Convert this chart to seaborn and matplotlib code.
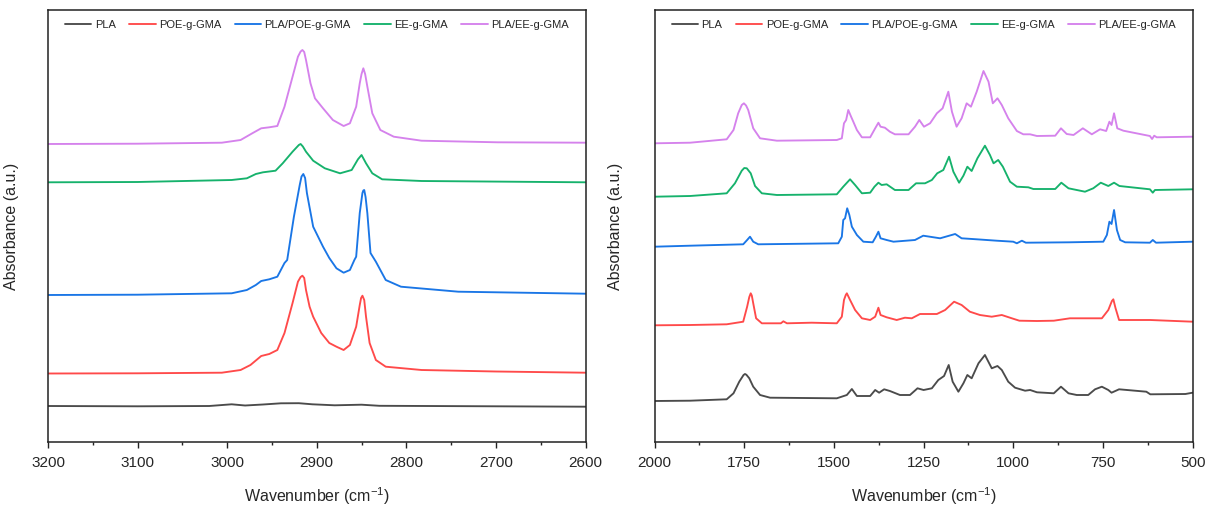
import matplotlib
matplotlib.use("Agg")
import matplotlib.pyplot as plt
from matplotlib.ticker import MultipleLocator
import pandas as pd
import seaborn as sns

# ---------------- C-H stretching region (3200-2600 cm-1) ----------------
ch_pla_wn = [3200, 3100, 3020, 2995, 2980, 2960, 2940, 2920, 2905, 2880, 2850, 2830, 2700, 2600]
ch_pla_abs = [0.360, 0.357, 0.360, 0.377, 0.365, 0.375, 0.387, 0.388, 0.377, 0.367, 0.373, 0.362, 0.357, 0.353]

ch_poe_wn = [3200, 3100, 3006, 2985, 2974, 2962, 2953, 2944, 2936, 2927, 2921, 2918, 2916, 2914, 2912,
             2908, 2904, 2895, 2886, 2878, 2870, 2863, 2856, 2852, 2850.5, 2849, 2847, 2845, 2841, 2834,
             2823, 2783, 2700, 2600]
ch_poe_abs = [0.685, 0.687, 0.693, 0.720, 0.770, 0.860, 0.880, 0.920, 1.090, 1.390, 1.603, 1.650, 1.663,
              1.640, 1.520, 1.353, 1.253, 1.090, 0.990, 0.953, 0.920, 0.970, 1.153, 1.370, 1.440, 1.463,
              1.420, 1.253, 0.990, 0.820, 0.753, 0.720, 0.705, 0.693]

ch_plapoe_wn = [3200, 3100, 2995, 2978, 2968, 2962, 2953, 2944, 2936, 2933, 2925.5, 2919, 2917, 2915,
                2913, 2911, 2904, 2893, 2886, 2878, 2870, 2863, 2858, 2856, 2852, 2849, 2848, 2847,
                2845.5, 2843.5, 2840, 2834, 2823, 2806, 2742, 2600]
ch_plapoe_abs = [1.470, 1.473, 1.487, 1.520, 1.570, 1.610, 1.627, 1.653, 1.790, 1.820, 2.253, 2.570,
                 2.655, 2.680, 2.640, 2.490, 2.153, 1.953, 1.840, 1.737, 1.693, 1.720, 1.820, 1.853,
                 2.290, 2.490, 2.515, 2.520, 2.450, 2.287, 1.890, 1.803, 1.620, 1.553, 1.503, 1.483]

ch_ee_wn = [3200, 3100, 2995, 2978, 2968, 2960, 2946, 2938, 2927, 2920, 2918, 2915.5, 2912, 2904, 2891,
            2874, 2861, 2854, 2850, 2845, 2838, 2827, 2783, 2600]
ch_ee_abs = [2.597, 2.600, 2.620, 2.637, 2.680, 2.697, 2.713, 2.787, 2.903, 2.970, 2.980, 2.955, 2.903,
             2.813, 2.737, 2.687, 2.720, 2.827, 2.870, 2.787, 2.687, 2.627, 2.610, 2.597]

ch_plaee_wn = [3200, 3100, 3006, 2985, 2972, 2962, 2953, 2944, 2936, 2927, 2921, 2918, 2916, 2914, 2912,
               2907, 2902, 2893, 2882, 2870, 2863, 2856, 2852, 2850, 2848, 2846, 2843.5, 2838, 2829,
               2814, 2783, 2698, 2600]
ch_plaee_abs = [2.980, 2.983, 2.993, 3.020, 3.087, 3.137, 3.147, 3.160, 3.353, 3.653, 3.853, 3.905,
                3.920, 3.900, 3.820, 3.587, 3.437, 3.337, 3.220, 3.160, 3.187, 3.353, 3.587, 3.680,
                3.737, 3.680, 3.553, 3.287, 3.120, 3.053, 3.013, 2.997, 2.993]

# ---------------- fingerprint region (2000-500 cm-1) ----------------
fp_pla_wn = [2000, 1901, 1799, 1780, 1764, 1752, 1748, 1744, 1736, 1725, 1706, 1678, 1492, 1464, 1450,
             1436, 1399, 1385, 1374, 1360, 1344, 1316, 1288, 1267, 1250, 1227, 1209, 1193, 1180, 1169,
             1153, 1139, 1128, 1116, 1097, 1079, 1060, 1044, 1032, 1014, 995, 967, 953, 934, 887, 867,
             846, 823, 791, 772, 753, 735, 726, 705, 629, 618, 520, 500]
fp_pla_abs = [0.410, 0.413, 0.427, 0.487, 0.603, 0.670, 0.680, 0.672, 0.637, 0.553, 0.470, 0.443, 0.437,
              0.470, 0.530, 0.460, 0.460, 0.520, 0.493, 0.527, 0.510, 0.470, 0.470, 0.537, 0.520, 0.537,
              0.620, 0.660, 0.770, 0.603, 0.503, 0.587, 0.670, 0.637, 0.787, 0.870, 0.737, 0.760, 0.720,
              0.603, 0.543, 0.513, 0.520, 0.497, 0.487, 0.553, 0.487, 0.470, 0.470, 0.527, 0.553, 0.520,
              0.493, 0.527, 0.503, 0.477, 0.480, 0.493]

fp_poe_wn = [2000, 1901, 1799, 1753, 1742, 1736, 1732, 1729, 1725, 1717, 1701, 1648, 1641, 1631, 1562,
             1492, 1478, 1472, 1467, 1464, 1455, 1441, 1422, 1399, 1385, 1376, 1370, 1353, 1325, 1302,
             1283, 1260, 1213, 1190, 1165, 1144, 1121, 1093, 1060, 1032, 1004, 983, 934, 887, 842, 795,
             753, 735, 725, 721, 715, 705, 618, 500]
fp_poe_abs = [1.167, 1.170, 1.177, 1.203, 1.353, 1.450, 1.487, 1.465, 1.387, 1.237, 1.187, 1.187, 1.207,
              1.187, 1.193, 1.187, 1.253, 1.420, 1.470, 1.487, 1.420, 1.320, 1.237, 1.220, 1.253, 1.343,
              1.270, 1.247, 1.220, 1.243, 1.237, 1.280, 1.280, 1.320, 1.403, 1.370, 1.303, 1.270, 1.253,
              1.270, 1.237, 1.213, 1.210, 1.213, 1.237, 1.237, 1.237, 1.320, 1.410, 1.427, 1.340, 1.220,
              1.220, 1.203]

fp_plapoe_wn = [2000, 1901, 1753, 1742, 1734, 1725, 1711, 1488, 1478, 1474, 1469, 1463, 1457, 1450, 1436,
                1418, 1392, 1383, 1376, 1370, 1353, 1334, 1274, 1251, 1204, 1162, 1144, 1102, 1046, 1000,
                990, 976, 965, 844, 749, 739, 732, 726, 719, 711, 702, 688, 619, 611, 602, 500]
fp_plapoe_abs = [1.953, 1.963, 1.977, 2.020, 2.053, 2.003, 1.977, 1.987, 2.053, 2.220, 2.237, 2.337,
                 2.270, 2.153, 2.070, 2.003, 1.997, 2.053, 2.103, 2.037, 2.020, 2.003, 2.020, 2.063,
                 2.037, 2.080, 2.037, 2.027, 2.013, 2.003, 1.987, 2.013, 1.993, 1.997, 2.003, 2.070,
                 2.203, 2.180, 2.320, 2.120, 2.020, 1.997, 1.993, 2.020, 1.993, 2.003]

fp_ee_wn = [2000, 1901, 1799, 1776, 1757, 1750, 1743, 1732, 1720, 1701, 1659, 1492, 1474, 1455, 1441,
            1422, 1399, 1387, 1376, 1367, 1353, 1330, 1292, 1271, 1246, 1227, 1212, 1195, 1179, 1167,
            1151, 1139, 1128, 1116, 1100, 1079, 1065, 1055, 1042, 1029, 1009, 990, 958, 944, 883, 866,
            846, 800, 777, 756, 735, 719, 704, 619, 611, 605, 500]
fp_ee_abs = [2.453, 2.460, 2.487, 2.587, 2.713, 2.740, 2.737, 2.687, 2.560, 2.487, 2.470, 2.477, 2.553,
             2.627, 2.570, 2.487, 2.493, 2.553, 2.593, 2.570, 2.577, 2.520, 2.520, 2.587, 2.587, 2.620,
             2.687, 2.720, 2.853, 2.703, 2.593, 2.663, 2.753, 2.710, 2.837, 2.963, 2.870, 2.787, 2.820,
             2.753, 2.603, 2.553, 2.547, 2.530, 2.530, 2.593, 2.537, 2.503, 2.537, 2.593, 2.560, 2.593,
             2.560, 2.527, 2.493, 2.520, 2.527]

fp_plaee_wn = [2000, 1901, 1799, 1780, 1767, 1757, 1751, 1745, 1739, 1725, 1706, 1659, 1492, 1478, 1472,
               1466, 1460, 1453, 1446, 1436, 1422, 1399, 1385, 1376, 1370, 1358, 1344, 1330, 1292, 1274,
               1262, 1249, 1232, 1213, 1197, 1181, 1171, 1158, 1144, 1130, 1118, 1102, 1083, 1069, 1057,
               1044, 1032, 1014, 990, 972, 953, 934, 883, 867, 851, 832, 806, 781, 758, 741, 732, 726,
               719, 710, 693, 619, 613, 607, 600, 500]
fp_plaee_abs = [2.987, 2.993, 3.027, 3.120, 3.287, 3.370, 3.387, 3.365, 3.320, 3.137, 3.037, 3.013,
                3.020, 3.037, 3.187, 3.220, 3.320, 3.260, 3.203, 3.120, 3.047, 3.047, 3.137, 3.193,
                3.153, 3.143, 3.103, 3.077, 3.077, 3.153, 3.220, 3.153, 3.187, 3.287, 3.337, 3.503,
                3.303, 3.153, 3.237, 3.387, 3.353, 3.503, 3.710, 3.603, 3.387, 3.437, 3.370, 3.237,
                3.110, 3.077, 3.077, 3.060, 3.063, 3.137, 3.080, 3.070, 3.137, 3.077, 3.127, 3.110,
                3.203, 3.170, 3.287, 3.137, 3.113, 3.060, 3.030, 3.063, 3.047, 3.053]

samples = ["PLA", "POE-g-GMA", "PLA/POE-g-GMA", "EE-g-GMA", "PLA/EE-g-GMA"]
colors = ["#4b4b4b", "#ff4a4a", "#1a76e6", "#16b26c", "#d582ec"]

ch_series = [(ch_pla_wn, ch_pla_abs), (ch_poe_wn, ch_poe_abs), (ch_plapoe_wn, ch_plapoe_abs),
             (ch_ee_wn, ch_ee_abs), (ch_plaee_wn, ch_plaee_abs)]
fp_series = [(fp_pla_wn, fp_pla_abs), (fp_poe_wn, fp_poe_abs), (fp_plapoe_wn, fp_plapoe_abs),
             (fp_ee_wn, fp_ee_abs), (fp_plaee_wn, fp_plaee_abs)]


def to_frame(series):
    parts = []
    for name, (wn, ab) in zip(samples, series):
        parts.append(pd.DataFrame({"wavenumber": wn, "absorbance": ab, "sample": name}))
    return pd.concat(parts, ignore_index=True)


df_ch = to_frame(ch_series)
df_fp = to_frame(fp_series)

sns.set_style("white")
plt.rcParams["font.family"] = ["Liberation Sans", "DejaVu Sans"]
plt.rcParams["mathtext.fontset"] = "custom"
plt.rcParams["mathtext.rm"] = "Liberation Sans"
plt.rcParams["mathtext.it"] = "Liberation Sans"

W, H = 1212, 507
fig = plt.figure(figsize=(W / 100, H / 100), dpi=100)
ax1 = fig.add_axes([48 / W, 65 / H, 537.5 / W, 432 / H])
ax2 = fig.add_axes([654.6 / W, 65 / H, 538 / W, 432 / H])

palette = dict(zip(samples, colors))

for ax, df, xlim, major, minor in [(ax1, df_ch, (3200, 2600), 100, 50),
                                   (ax2, df_fp, (2000, 500), 250, 125)]:
    sns.lineplot(data=df, x="wavenumber", y="absorbance", hue="sample", hue_order=samples,
                 palette=palette, sort=False, estimator=None, units="sample",
                 linewidth=1.35, ax=ax)
    ax.set_xlim(*xlim)
    ax.set_ylim(0, 4.32)
    ax.xaxis.set_major_locator(MultipleLocator(major))
    ax.xaxis.set_minor_locator(MultipleLocator(minor))
    ax.set_yticks([])
    ax.tick_params(axis="x", which="major", direction="out", length=4, width=1.0,
                   labelsize=11, pad=6, color="#222222", bottom=True)
    ax.tick_params(axis="x", which="minor", direction="out", length=2.5, width=1.0,
                   color="#222222", bottom=True)
    for sp in ax.spines.values():
        sp.set_visible(True)
        sp.set_color("#222222")
        sp.set_linewidth(1.1)
    ax.set_xlabel("Wavenumber (cm$^{-1}$)", fontsize=11.5, labelpad=11)
    ax.set_ylabel("Absorbance (a.u.)", fontsize=11.5)
    handles, labels = ax.get_legend_handles_labels()
    if ax.get_legend() is not None:
        ax.get_legend().remove()
    ax.legend(handles, labels, ncol=5, loc="upper center", bbox_to_anchor=(0.5, 0.995),
              frameon=False, fontsize=8, handlelength=2.4, handletextpad=0.3,
              columnspacing=1.2, borderaxespad=0.3)

ax1.yaxis.set_label_coords(-0.054, 0.5)
ax2.yaxis.set_label_coords(-0.058, 0.5)

fig.savefig("out.png", dpi=100)
